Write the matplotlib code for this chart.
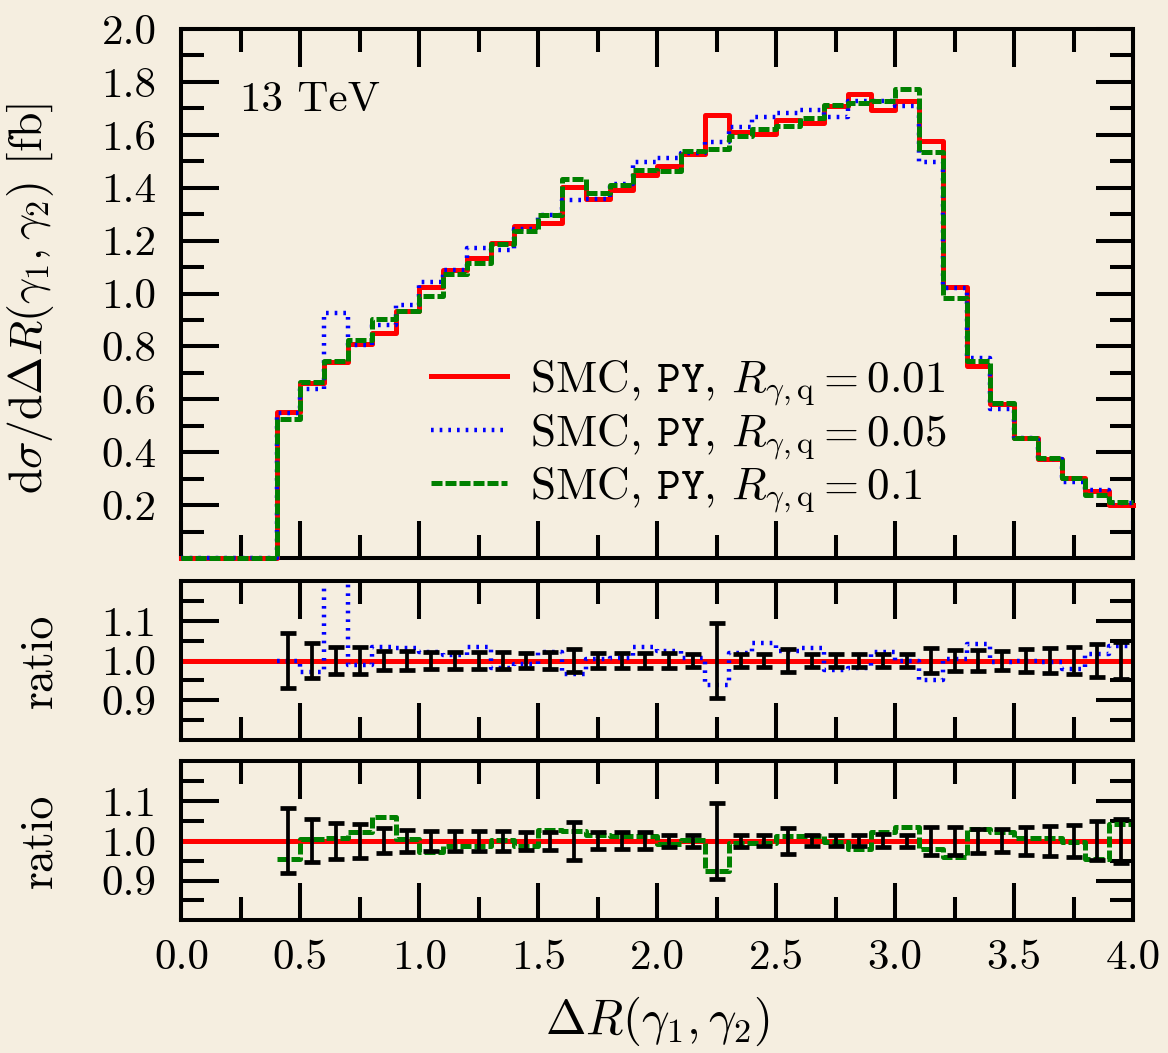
import numpy as np
import matplotlib
matplotlib.use("Agg")
import matplotlib.pyplot as plt
from matplotlib.ticker import MultipleLocator, FixedLocator

# bins of Delta R, width 0.1 from 0 to 4
bordes = np.round(np.arange(0.0, 4.01, 0.1), 2)
centros = np.round(np.arange(0.45, 4.0, 0.1), 2)

# d sigma / d Delta R [fb], 40 bins
sigma_001 = [0, 0, 0, 0, 0.552, 0.663, 0.741, 0.811, 0.852, 0.933,
             1.023, 1.088, 1.135, 1.191, 1.254, 1.267, 1.401, 1.358, 1.392, 1.448,
             1.481, 1.527, 1.675, 1.612, 1.602, 1.654, 1.644, 1.709, 1.753, 1.692,
             1.728, 1.578, 1.024, 0.726, 0.581, 0.455, 0.376, 0.302, 0.252, 0.201]
sigma_005 = [0, 0, 0, 0, 0.550, 0.641, 0.927, 0.804, 0.880, 0.958,
             1.044, 1.088, 1.172, 1.166, 1.242, 1.296, 1.352, 1.358, 1.415, 1.499,
             1.512, 1.531, 1.571, 1.628, 1.669, 1.682, 1.694, 1.669, 1.726, 1.726,
             1.709, 1.499, 1.021, 0.757, 0.565, 0.455, 0.374, 0.288, 0.257, 0.210]
sigma_01 = [0, 0, 0, 0, 0.527, 0.666, 0.746, 0.824, 0.904, 0.933,
            0.992, 1.072, 1.116, 1.188, 1.235, 1.298, 1.433, 1.380, 1.411, 1.468,
            1.462, 1.537, 1.547, 1.596, 1.622, 1.632, 1.663, 1.713, 1.720, 1.726,
            1.772, 1.535, 0.984, 0.745, 0.585, 0.455, 0.380, 0.302, 0.239, 0.212]

# ratios to R = 0.01, bins from 0.4 to 4.0
ratio_005 = [1.000, 0.972, 1.250, 0.989, 1.033, 1.032,
             1.022, 1.015, 1.035, 0.981, 0.992, 1.021, 0.967, 1.004, 1.007, 1.035,
             1.025, 1.007, 0.938, 1.020, 1.043, 1.025, 1.032, 0.975, 0.982, 1.021,
             1.000, 0.950, 1.004, 1.042, 0.996, 1.000, 0.996, 0.979, 1.017, 1.037]
ratio_01 = [0.954, 1.004, 1.008, 1.021, 1.059, 1.004,
            0.972, 0.986, 0.987, 1.002, 0.987, 1.027, 1.025, 1.014, 1.011, 1.013,
            0.992, 1.003, 0.924, 0.994, 0.994, 1.011, 1.011, 0.997, 0.979, 1.023,
            1.034, 0.979, 0.960, 1.030, 1.021, 1.006, 1.008, 0.996, 0.954, 1.042]

# statistical errors (relative) shown as black bars
err_005 = [0.069, 0.044, 0.035, 0.035, 0.025, 0.023,
           0.021, 0.021, 0.021, 0.021, 0.020, 0.021, 0.030, 0.018, 0.018, 0.018,
           0.018, 0.017, 0.095, 0.017, 0.017, 0.030, 0.017, 0.016, 0.016, 0.017,
           0.016, 0.031, 0.026, 0.026, 0.024, 0.030, 0.032, 0.034, 0.042, 0.046]
err_01 = [0.082, 0.054, 0.045, 0.042, 0.031, 0.028,
          0.025, 0.025, 0.025, 0.025, 0.023, 0.023, 0.048, 0.021, 0.021, 0.021,
          0.015, 0.015, 0.096, 0.015, 0.014, 0.032, 0.014, 0.014, 0.014, 0.016,
          0.015, 0.036, 0.036, 0.030, 0.029, 0.036, 0.038, 0.041, 0.049, 0.055]

etiquetas = [r"SMC, $\mathtt{PY}$, $R_{\gamma,\mathrm{q}} = 0.01$",
             r"SMC, $\mathtt{PY}$, $R_{\gamma,\mathrm{q}} = 0.05$",
             r"SMC, $\mathtt{PY}$, $R_{\gamma,\mathrm{q}} = 0.1$"]

fondo = "#F5EEE0"
plt.rcParams["font.family"] = "cmr10"
plt.rcParams["mathtext.fontset"] = "cm"
plt.rcParams["axes.formatter.use_mathtext"] = True
plt.rcParams["axes.unicode_minus"] = False

estilo_rojo = dict(color="#FF0000", lw=3.6)
estilo_azul = dict(color="#0000FF", lw=3.2, dashes=(0.6, 1.35))
estilo_verde = dict(color="#008000", lw=3.6, dashes=(2.2, 0.6))

fs = 31

fig = plt.figure(figsize=(11.68, 10.53), dpi=100, facecolor=fondo)
ax = fig.add_axes([0.1553, 0.4700, 0.8148, 0.5025])
ax1 = fig.add_axes([0.1553, 0.2972, 0.8148, 0.1510])
ax2 = fig.add_axes([0.1553, 0.1260, 0.8148, 0.1510])


def estilo_ejes(a):
    a.set_facecolor(fondo)
    a.set_xlim(0, 4)
    for s in a.spines.values():
        s.set_linewidth(2.9)
    a.xaxis.set_major_locator(MultipleLocator(0.5))
    a.xaxis.set_minor_locator(MultipleLocator(0.25))
    a.tick_params(which="both", direction="in", top=True, right=True,
                  width=2.9, labelsize=fs)
    a.tick_params(which="major", length=27, pad=18)
    a.tick_params(which="minor", length=16.5)


# main panel
ax.step(bordes, sigma_001 + sigma_001[-1:], where="post", label=etiquetas[0],
        clip_on=False, zorder=3, **estilo_rojo)
ax.step(bordes, sigma_005 + sigma_005[-1:], where="post", label=etiquetas[1],
        clip_on=False, zorder=3, **estilo_azul)
ax.step(bordes, sigma_01 + sigma_01[-1:], where="post", label=etiquetas[2],
        clip_on=False, zorder=3, **estilo_verde)
estilo_ejes(ax)
ax.set_ylim(0, 2.0)
ax.yaxis.set_major_locator(FixedLocator(np.round(np.arange(0.2, 2.01, 0.2), 1)))
ax.yaxis.set_minor_locator(MultipleLocator(0.1))
ax.yaxis.set_major_formatter(matplotlib.ticker.FormatStrFormatter("%.1f"))
ax.tick_params(labelbottom=False)
ax.set_ylabel(r"$\mathrm{d}\sigma/\mathrm{d}\Delta R(\gamma_1,\gamma_2)$ [fb]", fontsize=33)
ax.yaxis.set_label_coords(-0.132, 0.49)
ax.text(0.062, 0.866, "13 TeV", transform=ax.transAxes, fontsize=fs, va="center", ha="left")
ax.legend(loc="upper left", bbox_to_anchor=(0.262, 0.377), frameon=False, fontsize=32.5,
          handlelength=1.7, handletextpad=0.5, labelspacing=0.08, borderpad=0,
          borderaxespad=0)

# ratio panels
paneles = [(ax1, ratio_005, err_005, estilo_azul), (ax2, ratio_01, err_01, estilo_verde)]
for a, rat, err, est in paneles:
    a.axhline(1.0, **estilo_rojo)
    a.step(bordes[4:], rat + rat[-1:], where="post", **est)
    a.errorbar(centros, np.ones(len(centros)), yerr=err, fmt="none", ecolor="black",
               elinewidth=2.7, capsize=5.8, capthick=3.4, zorder=5)
    estilo_ejes(a)
    a.set_ylim(0.8, 1.2)
    a.yaxis.set_major_locator(FixedLocator([0.9, 1.0, 1.1]))
    a.yaxis.set_minor_locator(FixedLocator([0.85, 0.95, 1.05, 1.15]))
    a.yaxis.set_major_formatter(matplotlib.ticker.FormatStrFormatter("%.1f"))
    a.set_ylabel("ratio", fontsize=33)
    a.yaxis.set_label_coords(-0.127, 0.5)

ax1.tick_params(labelbottom=False)
ax2.xaxis.set_major_formatter(matplotlib.ticker.FormatStrFormatter("%.1f"))
ax2.tick_params(axis="x", pad=14)
ax2.set_xlabel(r"$\Delta R(\gamma_1,\gamma_2)$", fontsize=35)
ax2.xaxis.set_label_coords(0.5, -0.47)

fig.savefig("out.png", dpi=100, facecolor=fondo)
